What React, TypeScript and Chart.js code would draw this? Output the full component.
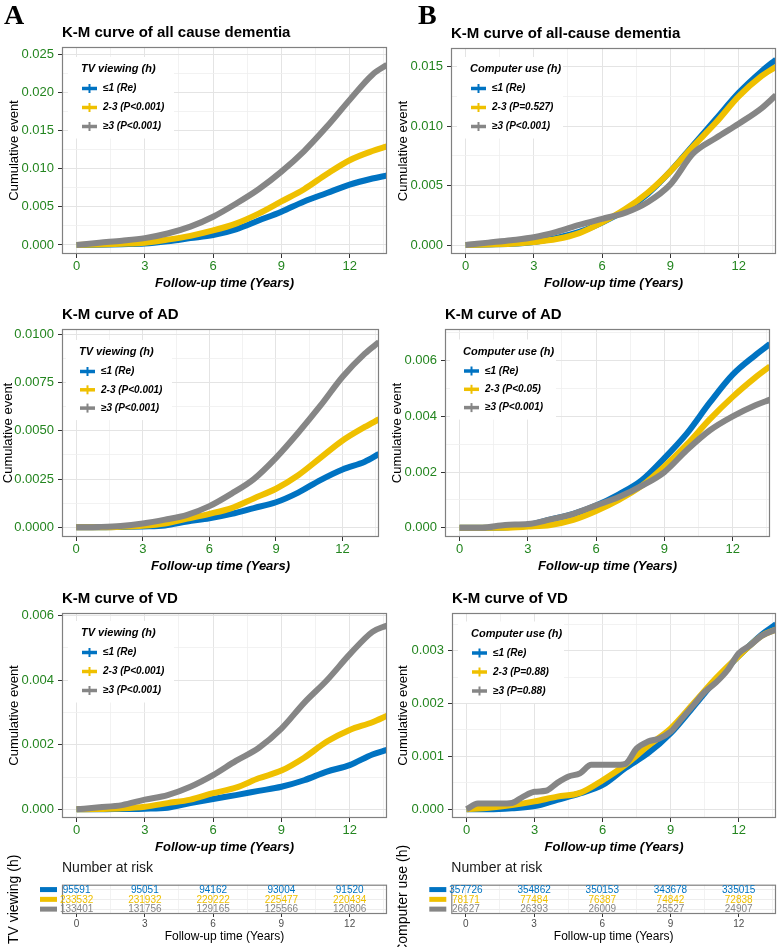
import React, { useEffect, useRef } from "react";
import { Chart, registerables } from "chart.js";

Chart.register(...registerables);

const FONT = "'Liberation Sans', Arial, Helvetica, sans-serif";
const SERIF = "'Liberation Serif', 'Times New Roman', serif";
const SERIES_COLORS = ["#0073C2", "#EFC000", "#868686"];
const TICK_GREEN = "#23851F";

// ---------- data ----------
const years = [0, 1, 2, 3, 4, 5, 6, 7, 8, 9, 10, 11, 12, 13, 13.64];
const halfYears = [0, 0.5, 1, 1.5, 2, 2.5, 3, 3.5, 4, 4.5, 5, 5.5, 6, 6.5, 7, 7.5, 8, 8.5, 9, 9.5, 10, 10.5, 11, 11.5, 12, 12.5, 13, 13.64];

const xMajorTicks = [0, 3, 6, 9, 12];
const xMinorTicks = [1.5, 4.5, 7.5, 10.5, 13.5];

// TV viewing – all cause dementia
const tvAllLow = [0, 0.00003, 0.0001, 0.0002, 0.0005, 0.0009, 0.0013, 0.00205, 0.0032, 0.00436, 0.0057, 0.0068, 0.0079, 0.0087, 0.0091];
const tvAllMid = [0, 0.00005, 0.00015, 0.0003, 0.0007, 0.0012, 0.0019, 0.0028, 0.0041, 0.0057, 0.0073, 0.0093, 0.0111, 0.0123, 0.0129];
const tvAllHigh = [0, 0.0003, 0.00056, 0.0009, 0.0015, 0.0024, 0.0037, 0.0054, 0.0073, 0.0096, 0.0123, 0.0155, 0.019, 0.0223, 0.0236];
// TV viewing – AD
const tvAdLow = [0, 0, 0.00002, 0.00005, 0.0001, 0.0003, 0.00047, 0.0007, 0.001, 0.0013, 0.0018, 0.00245, 0.003, 0.0034, 0.0038];
const tvAdMid = [0, 0, 0.00003, 0.00008, 0.0002, 0.00045, 0.0007, 0.001, 0.0015, 0.002, 0.0027, 0.0036, 0.0045, 0.0052, 0.0056];
const tvAdHigh = [0, 0.00002, 0.00007, 0.0002, 0.0004, 0.00065, 0.0011, 0.00175, 0.0025, 0.0036, 0.0049, 0.0063, 0.0078, 0.009, 0.0096];
// TV viewing – VD
const tvVdLow = [0, 0, 0.00001, 0.00002, 0.00005, 0.00019, 0.00032, 0.00044, 0.00057, 0.0007, 0.0009, 0.00117, 0.00137, 0.0017, 0.00184];
const tvVdMid = [0, 0.00001, 0.00003, 0.00008, 0.00019, 0.0003, 0.0005, 0.00067, 0.00096, 0.0012, 0.0016, 0.0021, 0.00246, 0.0027, 0.0029];
const tvVdHigh = [0, 0.00006, 0.00013, 0.0003, 0.00044, 0.0007, 0.00106, 0.0015, 0.0019, 0.0025, 0.0033, 0.004, 0.0048, 0.0055, 0.0057];

// Computer use – all-cause dementia
const pcAllLow = [0, 0.00005, 0.0001, 0.00025, 0.0006, 0.0011, 0.0019, 0.0029, 0.0043, 0.0062, 0.0084, 0.0106, 0.0128, 0.0146, 0.0156];
const pcAllMid = [0, 0.00005, 0.0001, 0.00025, 0.0005, 0.001, 0.0019, 0.003, 0.0044, 0.0062, 0.0083, 0.0103, 0.0125, 0.0142, 0.015];
const pcAllHigh = [0, 0.0002, 0.0004, 0.00065, 0.0011, 0.0017, 0.0022, 0.0027, 0.0036, 0.0051, 0.0077, 0.009, 0.0102, 0.0115, 0.0126];
// Computer use – AD
const pcAdLow = [0, 0, 0.00001, 0.0001, 0.0003, 0.0005, 0.0008, 0.0012, 0.0017, 0.0025, 0.0034, 0.0045, 0.0055, 0.0062, 0.0066];
const pcAdMid = [0, 0, 0, 0.00004, 0.0001, 0.00028, 0.0006, 0.001, 0.0015, 0.0022, 0.003, 0.0039, 0.0047, 0.0054, 0.0058];
const pcAdHigh = [0, 0, 0.0001, 0.00013, 0.0003, 0.0005, 0.0008, 0.0011, 0.0015, 0.002, 0.0028, 0.0035, 0.004, 0.0044, 0.0046];
// Computer use – VD
const pcVdLow = [0, 0, 0.00002, 0.00006, 0.00018, 0.0003, 0.00046, 0.00078, 0.00106, 0.00144, 0.00194, 0.00245, 0.0029, 0.0033, 0.0035];
const pcVdMid = [0, 0.00003, 0.00008, 0.00015, 0.00024, 0.00031, 0.00055, 0.00084, 0.0012, 0.00153, 0.002, 0.00248, 0.0029, 0.00328, 0.0034];
const pcVdHigh = [0, 0.00011, 0.00011, 0.00011, 0.00012, 0.00024, 0.00033, 0.00035, 0.0005, 0.00062, 0.00068, 0.00084, 0.00084, 0.00084, 0.00086, 0.00115, 0.00128, 0.00134, 0.00147, 0.00172, 0.00197, 0.00222, 0.0024, 0.00263, 0.00295, 0.0031, 0.00328, 0.0034];

// y tick values
const yTicksAll = [0, 0.005, 0.01, 0.015, 0.02, 0.025];
const yMinorAll = [0.0025, 0.0075, 0.0125, 0.0175, 0.0225];
const yTicksAdTv = [0, 0.0025, 0.005, 0.0075, 0.01];
const yMinorAdTv = [0.00125, 0.00375, 0.00625, 0.00875];
const yTicksVdTv = [0, 0.002, 0.004, 0.006];
const yMinorVdTv = [0.001, 0.003, 0.005];
const yTicksAllPc = [0, 0.005, 0.01, 0.015];
const yMinorAllPc = [0.0025, 0.0075, 0.0125];
const yTicksAdPc = [0, 0.002, 0.004, 0.006];
const yMinorAdPc = [0.001, 0.003, 0.005, 0.007];
const yTicksVdPc = [0, 0.001, 0.002, 0.003];
const yMinorVdPc = [0.0005, 0.0015, 0.0025, 0.0035];

// text
const titleAllTv = "K-M curve of all cause dementia";
const titleAllPc = "K-M curve of all-cause dementia";
const titleAd = "K-M curve of AD";
const titleVd = "K-M curve of VD";
const tvGroup = "TV viewing (h)";
const pcGroup = "Computer use (h)";
const tvLabels = ["≤1 (Re)", "2-3 (P<0.001)", "≥3 (P<0.001)"];
const pcAllLabels = ["≤1 (Re)", "2-3 (P=0.527)", "≥3 (P<0.001)"];
const pcAdLabels = ["≤1 (Re)", "2-3 (P<0.05)", "≥3 (P<0.001)"];
const pcVdLabels = ["≤1 (Re)", "2-3 (P=0.88)", "≥3 (P=0.88)"];
const xTitle = "Follow-up time (Years)";
const yTitle = "Cumulative event";
const riskTitle = "Number at risk";

// risk tables
const riskTimes = [0, 3, 6, 9, 12];
const tvRiskLow = [95591, 95051, 94162, 93004, 91520];
const tvRiskMid = [233532, 231932, 229222, 225477, 220434];
const tvRiskHigh = [133401, 131756, 129165, 125566, 120806];
const pcRiskLow = [357726, 354862, 350153, 343678, 335015];
const pcRiskMid = [78171, 77484, 76387, 74842, 72838];
const pcRiskHigh = [26627, 26393, 26009, 25527, 24907];

const X_MIN = -0.64;
const X_MAX = 13.64;

// ---------- helpers ----------
const isIn = (arr: number[], v: any) =>
  typeof v === "number" && arr.some((a) => Math.abs(a - v) < 1e-9);

interface PanelSpec {
  id: string;
  letter?: string;
  letterX?: number;
  title: string;
  group: string;
  labels: string[];
  series: { t: number[]; v: number[] }[];
  yMajor: number[];
  yMinor: number[];
  yMin: number;
  yMax: number;
  dec: number;
  x: number;
  y: number;
  w: number;
  h: number;
  pl: number;
  pt: number;
  pr: number;
  pb: number;
  yTitleX: number;
  lx: number;
  ly: number;
  gap: number;
}

const PANELS: PanelSpec[] = [
  {
    id: "A1", letter: "A", letterX: 4, title: titleAllTv, group: tvGroup, labels: tvLabels,
    series: [{ t: years, v: tvAllLow }, { t: years, v: tvAllMid }, { t: years, v: tvAllHigh }],
    yMajor: yTicksAll, yMinor: yMinorAll, yMin: -0.00118, yMax: 0.02592, dec: 3,
    x: 0, y: 0, w: 389, h: 292, pl: 62, pt: 47, pr: 387, pb: 254, yTitleX: 14, lx: 19, ly: 22, gap: 19,
  },
  {
    id: "A2", title: titleAd, group: tvGroup, labels: tvLabels,
    series: [{ t: years, v: tvAdLow }, { t: years, v: tvAdMid }, { t: years, v: tvAdHigh }],
    yMajor: yTicksAdTv, yMinor: yMinorAdTv, yMin: -0.0005, yMax: 0.010275, dec: 4,
    x: 0, y: 303, w: 389, h: 272, pl: 62, pt: 329, pr: 379, pb: 537, yTitleX: 8, lx: 17, ly: 23, gap: 18.3,
  },
  {
    id: "A3", title: titleVd, group: tvGroup, labels: tvLabels,
    series: [{ t: years, v: tvVdLow }, { t: years, v: tvVdMid }, { t: years, v: tvVdHigh }],
    yMajor: yTicksVdTv, yMinor: yMinorVdTv, yMin: -0.00027, yMax: 0.006084, dec: 3,
    x: 0, y: 587, w: 389, h: 269, pl: 62, pt: 613, pr: 387, pb: 818, yTitleX: 14, lx: 19, ly: 20, gap: 19,
  },
  {
    id: "B1", letter: "B", letterX: 30, title: titleAllPc, group: pcGroup, labels: pcAllLabels,
    series: [{ t: years, v: pcAllLow }, { t: years, v: pcAllMid }, { t: years, v: pcAllHigh }],
    yMajor: yTicksAllPc, yMinor: yMinorAllPc, yMin: -0.000757, yMax: 0.016573, dec: 3,
    x: 388, y: 0, w: 389, h: 292, pl: 451, pt: 48, pr: 776, pb: 254, yTitleX: 15, lx: 19, ly: 21, gap: 19,
  },
  {
    id: "B2", title: titleAd, group: pcGroup, labels: pcAdLabels,
    series: [{ t: years, v: pcAdLow }, { t: years, v: pcAdMid }, { t: years, v: pcAdHigh }],
    yMajor: yTicksAdPc, yMinor: yMinorAdPc, yMin: -0.000334, yMax: 0.007139, dec: 3,
    x: 388, y: 303, w: 389, h: 272, pl: 445, pt: 329, pr: 770, pb: 537, yTitleX: 9, lx: 18, ly: 22.5, gap: 18.3,
  },
  {
    id: "B3", title: titleVd, group: pcGroup, labels: pcVdLabels,
    series: [{ t: years, v: pcVdLow }, { t: years, v: pcVdMid }, { t: halfYears, v: pcVdHigh }],
    yMajor: yTicksVdPc, yMinor: yMinorVdPc, yMin: -0.000165, yMax: 0.003713, dec: 3,
    x: 388, y: 587, w: 389, h: 269, pl: 452, pt: 613, pr: 776, pb: 818, yTitleX: 15, lx: 19, ly: 20.5, gap: 19,
  },
];

interface TableSpec {
  id: string;
  group: string;
  rows: number[][];
  x: number;
  y: number;
  w: number;
  h: number;
  pl: number;
  pt: number;
  pr: number;
  pb: number;
  yTitleX: number;
  headY: number;
}

const TABLES: TableSpec[] = [
  { id: "TA", group: tvGroup, rows: [tvRiskLow, tvRiskMid, tvRiskHigh], x: 0, y: 838, w: 389, h: 109, pl: 62, pt: 884.7, pr: 387, pb: 914, yTitleX: 14, headY: 868 },
  { id: "TB", group: pcGroup, rows: [pcRiskLow, pcRiskMid, pcRiskHigh], x: 388, y: 838, w: 389, h: 109, pl: 451.3, pt: 884.7, pr: 776, pb: 914, yTitleX: 15, headY: 868 },
];

function gridOpts(majors: number[], tickLength: number, majorColor = "#E4E4E4", minorColor = "#EFEFEF") {
  return {
    color: (c: any) => (isIn(majors, c.tick?.value) ? majorColor : minorColor),
    lineWidth: (c: any) => (isIn(majors, c.tick?.value) ? 1 : 0.8),
    tickColor: (c: any) => (isIn(majors, c.tick?.value) ? "#333333" : "rgba(0,0,0,0)"),
    tickLength,
    tickWidth: 1,
    drawTicks: true,
    drawOnChartArea: true,
  };
}

function buildPanelConfig(spec: PanelSpec): any {
  const padTop = spec.pt - spec.y;
  const padRight = spec.x + spec.w - spec.pr;
  const yWidth = spec.pl - spec.x;
  const xHeight = spec.y + spec.h - spec.pb;
  const allX = [...xMajorTicks, ...xMinorTicks].sort((a, b) => a - b);
  const allY = [...spec.yMajor, ...spec.yMinor].sort((a, b) => a - b);

  const decor = {
    id: "kmDecor" + spec.id,
    beforeDatasetsDraw(chart: any) {
      const { ctx, chartArea: a } = chart;
      ctx.save();
      ctx.fillStyle = "#ffffff";
      ctx.fillRect(a.left + spec.lx - 13, a.top + spec.ly - 12, 106, 12 + 19.5 + 2 * spec.gap + 12);
      ctx.restore();
    },
    afterDraw(chart: any) {
      const { ctx, chartArea: a } = chart;
      ctx.save();
      ctx.strokeStyle = "#808080";
      ctx.lineWidth = 1.2;
      ctx.strokeRect(a.left + 0.5, a.top + 0.5, a.right - a.left - 1, a.bottom - a.top - 1);

      ctx.fillStyle = "#000";
      ctx.textAlign = "left";
      ctx.textBaseline = "middle";
      ctx.font = `bold 15px ${FONT}`;
      ctx.fillText(spec.title, a.left, a.top - 14);

      if (spec.letter) {
        ctx.textBaseline = "alphabetic";
        ctx.font = `bold 28px ${SERIF}`;
        ctx.fillText(spec.letter, spec.letterX, 24);
        ctx.textBaseline = "middle";
      }

      const lx = a.left + spec.lx;
      const ly = a.top + spec.ly;
      ctx.font = `italic bold 11px ${FONT}`;
      ctx.fillText(spec.group, lx, ly);
      spec.labels.forEach((lab, i) => {
        const y = ly + 19.5 + i * spec.gap;
        ctx.strokeStyle = SERIES_COLORS[i];
        ctx.lineWidth = 3.5;
        ctx.beginPath();
        ctx.moveTo(lx + 1, y);
        ctx.lineTo(lx + 16, y);
        ctx.stroke();
        ctx.lineWidth = 2;
        ctx.beginPath();
        ctx.moveTo(lx + 8.5, y - 4.5);
        ctx.lineTo(lx + 8.5, y + 4.5);
        ctx.stroke();
        ctx.fillStyle = "#000";
        ctx.font = `italic bold 10px ${FONT}`;
        ctx.fillText(lab, lx + 22, y);
      });
      ctx.restore();
    },
  };

  return {
    type: "line",
    data: {
      datasets: spec.series.map((s, i) => ({
        label: spec.labels[i],
        data: s.t.map((t, j) => ({ x: t, y: s.v[j] })),
        borderColor: SERIES_COLORS[i],
        backgroundColor: SERIES_COLORS[i],
        borderWidth: 6,
        pointRadius: 0,
        fill: false,
        cubicInterpolationMode: "monotone",
        order: 2 - i,
        clip: 0,
      })),
    },
    options: {
      animation: false,
      responsive: false,
      maintainAspectRatio: false,
      events: [],
      layout: { padding: { top: padTop, right: padRight, left: 0, bottom: 0 } },
      plugins: { legend: { display: false }, tooltip: { enabled: false }, title: { display: false } },
      scales: {
        x: {
          type: "linear",
          min: X_MIN,
          max: X_MAX,
          afterFit: (s: any) => {
            s.height = xHeight;
          },
          afterBuildTicks: (s: any) => {
            s.ticks = allX.map((v) => ({ value: v }));
          },
          ticks: {
            autoSkip: false,
            maxRotation: 0,
            padding: 1,
            color: TICK_GREEN,
            font: { family: FONT, size: 13 },
            callback: (v: any) => (isIn(xMajorTicks, v) ? String(v) : ""),
          },
          grid: gridOpts(xMajorTicks, 4),
          border: { display: false },
          title: {
            display: true,
            text: xTitle,
            color: "#000",
            font: { family: FONT, size: 13, weight: "bold", style: "italic" },
            padding: { top: 0, bottom: 1.2 },
          },
        },
        y: {
          type: "linear",
          min: spec.yMin,
          max: spec.yMax,
          afterFit: (s: any) => {
            s.width = yWidth;
          },
          afterBuildTicks: (s: any) => {
            s.ticks = allY.map((v) => ({ value: v }));
          },
          ticks: {
            autoSkip: false,
            padding: 4,
            color: TICK_GREEN,
            font: { family: FONT, size: 13 },
            callback: (v: any) => (isIn(spec.yMajor, v) ? Number(v).toFixed(spec.dec) : ""),
          },
          grid: gridOpts(spec.yMajor, 4),
          border: { display: false },
          title: {
            display: true,
            text: yTitle,
            color: "#000",
            font: { family: FONT, size: 13 },
            padding: { top: spec.yTitleX - 7.8, bottom: 0 },
          },
        },
      },
    },
    plugins: [decor],
  };
}

function buildTableConfig(spec: TableSpec): any {
  const padTop = spec.pt - spec.y;
  const padRight = spec.x + spec.w - spec.pr;
  const yWidth = spec.pl - spec.x;
  const xHeight = spec.y + spec.h - spec.pb;
  const allX = [...xMajorTicks, ...xMinorTicks].sort((a, b) => a - b);
  const rowsIdx = spec.rows.map((_, i) => i + 1);

  const decor = {
    id: "riskDecor" + spec.id,
    afterDraw(chart: any) {
      const { ctx, chartArea: a, scales } = chart;
      const xs = scales.x;
      const ys = scales.y;
      ctx.save();
      ctx.strokeStyle = "#808080";
      ctx.lineWidth = 1.2;
      ctx.strokeRect(a.left + 0.5, a.top + 0.5, a.right - a.left - 1, a.bottom - a.top - 1);

      ctx.fillStyle = "#1a1a1a";
      ctx.textAlign = "left";
      ctx.textBaseline = "middle";
      ctx.font = `14px ${FONT}`;
      ctx.fillText(riskTitle, a.left, spec.headY - spec.y);

      spec.rows.forEach((row, i) => {
        const py = ys.getPixelForValue(rowsIdx[i]);
        ctx.fillStyle = SERIES_COLORS[i];
        ctx.fillRect(a.left - 22, py - 2.5, 17, 5);
        ctx.font = `10px ${FONT}`;
        ctx.textAlign = "center";
        row.forEach((n, j) => {
          ctx.fillText(String(n), xs.getPixelForValue(riskTimes[j]), py + 0.5);
        });
      });
      ctx.restore();
    },
  };

  return {
    type: "scatter",
    data: { datasets: [] },
    options: {
      animation: false,
      responsive: false,
      maintainAspectRatio: false,
      events: [],
      layout: { padding: { top: padTop, right: padRight, left: 0, bottom: 0 } },
      plugins: { legend: { display: false }, tooltip: { enabled: false } },
      scales: {
        x: {
          type: "linear",
          min: X_MIN,
          max: X_MAX,
          afterFit: (s: any) => {
            s.height = xHeight;
          },
          afterBuildTicks: (s: any) => {
            s.ticks = allX.map((v) => ({ value: v }));
          },
          ticks: {
            autoSkip: false,
            maxRotation: 0,
            padding: 1,
            color: "#4D4D4D",
            font: { family: FONT, size: 10 },
            callback: (v: any) => (isIn(xMajorTicks, v) ? String(v) : ""),
          },
          grid: gridOpts(xMajorTicks, 3),
          border: { display: false },
          title: {
            display: true,
            text: xTitle,
            color: "#000",
            font: { family: FONT, size: 12 },
            padding: { top: 0, bottom: 2.8 },
          },
        },
        y: {
          type: "linear",
          reverse: true,
          min: 0.5,
          max: rowsIdx.length + 0.5,
          afterFit: (s: any) => {
            s.width = yWidth;
          },
          afterBuildTicks: (s: any) => {
            s.ticks = rowsIdx.map((v) => ({ value: v }));
          },
          ticks: { display: false },
          grid: { color: "#EDEDED", lineWidth: 1, drawTicks: false },
          border: { display: false },
          title: {
            display: true,
            text: spec.group,
            color: "#000",
            font: { family: FONT, size: 14 },
            padding: { top: spec.yTitleX - 8.4, bottom: 0 },
          },
        },
      },
    },
    plugins: [decor],
  };
}

function KMPanel({ spec }: { spec: PanelSpec }) {
  const ref = useRef<HTMLCanvasElement | null>(null);
  useEffect(() => {
    if (!ref.current) return;
    const chart = new Chart(ref.current, buildPanelConfig(spec));
    return () => chart.destroy();
  }, [spec]);
  return (
    <canvas
      ref={ref}
      width={spec.w}
      height={spec.h}
      style={{ position: "absolute", left: spec.x, top: spec.y, width: spec.w, height: spec.h, display: "block" }}
    />
  );
}

function RiskTable({ spec }: { spec: TableSpec }) {
  const ref = useRef<HTMLCanvasElement | null>(null);
  useEffect(() => {
    if (!ref.current) return;
    const chart = new Chart(ref.current, buildTableConfig(spec));
    return () => chart.destroy();
  }, [spec]);
  return (
    <canvas
      ref={ref}
      width={spec.w}
      height={spec.h}
      style={{ position: "absolute", left: spec.x, top: spec.y, width: spec.w, height: spec.h, display: "block" }}
    />
  );
}

export default function App() {
  return (
    <div
      style={{
        position: "absolute",
        left: 0,
        top: 0,
        width: 777,
        height: 947,
        background: "#ffffff",
        overflow: "hidden",
      }}
    >
      {PANELS.map((p) => (
        <KMPanel key={p.id} spec={p} />
      ))}
      {TABLES.map((t) => (
        <RiskTable key={t.id} spec={t} />
      ))}
    </div>
  );
}
